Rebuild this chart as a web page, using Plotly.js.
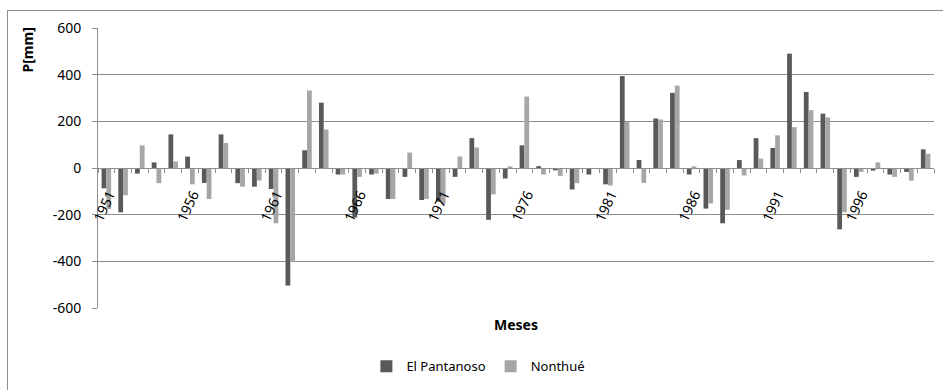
<!DOCTYPE html>
<html>
<head>
<meta charset="utf-8">
<script src="https://cdn.plot.ly/plotly-3.0.1.min.js"></script>
<style>
html,body{margin:0;padding:0;background:#fff;overflow:hidden;}
#chart{width:943px;height:390px;position:absolute;left:0;top:0;}
#frame{position:absolute;left:7px;top:10px;width:960px;height:420px;border:1px solid #8c8c8c;pointer-events:none;}
</style>
</head>
<body>
<div id="chart"></div>
<div id="frame"></div>
<script>
const years = [1951,1952,1953,1954,1955,1956,1957,1958,1959,1960,
               1961,1962,1963,1964,1965,1966,1967,1968,1969,1970,
               1971,1972,1973,1974,1975,1976,1977,1978,1979,1980,
               1981,1982,1983,1984,1985,1986,1987,1988,1989,1990,
               1991,1992,1993,1994,1995,1996,1997,1998,1999,2000];
const elPantanoso = [-87,-190,-24,24,144,49,-64,144,-65,-80,
                     -90,-504,76,280,-28,-212,-28,-133,-38,-137,
                     -145,-38,128,-222,-45,97,8,-10,-92,-28,
                     -70,394,34,212,322,-28,-174,-237,34,128,
                     86,490,326,233,-263,-38,-11,-28,-17,80];
const nonthue = [-176,-117,97,-65,28,-70,-133,107,-80,-54,
                 -237,-402,332,165,-28,-38,-24,-133,66,-133,
                 -155,49,88,-113,7,306,-28,-34,-65,-2,
                 -75,198,-64,208,353,7,-152,-179,-32,40,
                 140,175,248,217,-190,-17,24,-38,-54,61];
const tickYears = [1951,1956,1961,1966,1971,1976,1981,1986,1991,1996];
const yTicks = [-600,-400,-200,0,200,400,600];
const yTickText = ['-600','-400','-200','0','200','400','600'];

const FONT = '"Noto Sans", Lato, sans-serif';
const GRID = '#8e8e8e';

const traces = [
  {type:'bar', name:'El Pantanoso', x:years, y:elPantanoso,
   marker:{color:'#595959', line:{width:0}}},
  {type:'bar', name:'Nonthué', x:years, y:nonthue,
   marker:{color:'#a6a6a6', line:{width:0}}}
];

const layout = {
  width:943, height:390,
  margin:{l:98, r:9, t:28, b:78, pad:0},
  paper_bgcolor:'#ffffff', plot_bgcolor:'#ffffff',
  font:{family:FONT, size:14, color:'#000'},
  barmode:'group', bargap:0.43, bargroupgap:0,
  showlegend:true,
  legend:{orientation:'h', x:0.455, xanchor:'center', y:-0.155, yanchor:'top',
          font:{family:FONT, size:13, color:'#000'}, itemwidth:30, traceorder:'normal'},
  xaxis:{
    type:'linear', range:[1950.5, 2000.5],
    anchor:'free', position:0.5,
    tickmode:'array', tickvals:tickYears, ticktext:tickYears.map(String),
    tickangle:-65, ticks:'', ticklen:0,
    ticklabelstandoff:12, ticklabelshift:3,
    tickfont:{family:FONT, size:14, color:'#000'},
    showline:true, linecolor:GRID, linewidth:1,
    showgrid:false, zeroline:false,
    minor:{tick0:1950.5, dtick:1, ticks:'outside', ticklen:4, tickcolor:GRID, showgrid:false}
  },
  yaxis:{
    range:[-600,600], tickmode:'array', tickvals:yTicks, ticktext:yTickText,
    ticks:'outside', ticklen:5, tickcolor:GRID,
    tickfont:{family:FONT, size:14, color:'#000'},
    ticklabelstandoff:8,
    showline:true, linecolor:GRID, linewidth:1,
    showgrid:true, gridcolor:GRID, gridwidth:1,
    zeroline:false
  },
  annotations:[
    {text:'<b>Meses</b>', xref:'paper', yref:'paper', x:0.5, y:-0.06,
     xanchor:'center', yanchor:'middle', showarrow:false,
     font:{family:FONT, size:14, color:'#000'}},
    {text:'<b>P[mm]</b>', xref:'paper', yref:'paper', x:-0.084, y:0.9225,
     xanchor:'center', yanchor:'middle', textangle:-90, showarrow:false,
     font:{family:FONT, size:14, color:'#000'}}
  ]
};

Plotly.newPlot('chart', traces, layout, {displayModeBar:false, staticPlot:true});
</script>
</body>
</html>
